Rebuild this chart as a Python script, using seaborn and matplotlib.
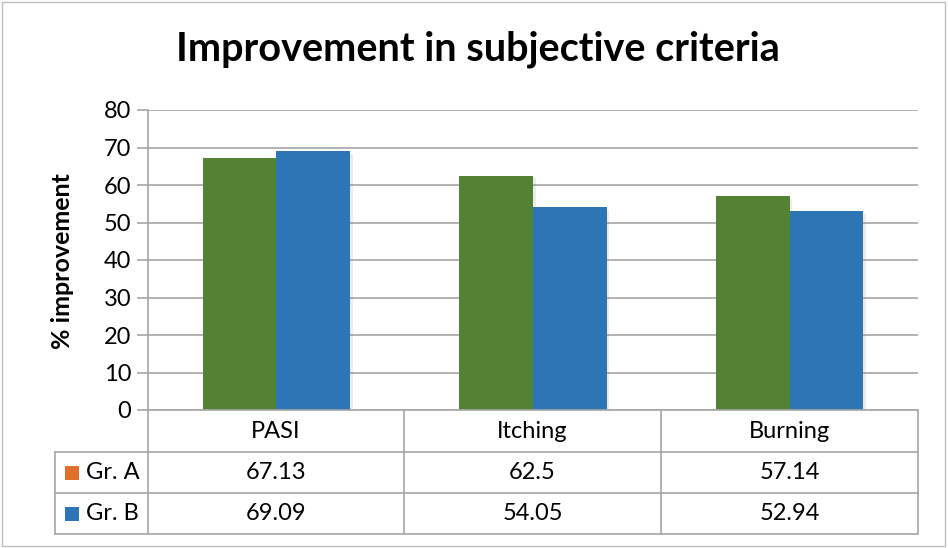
import matplotlib
matplotlib.use("Agg")
import matplotlib.pyplot as plt
import seaborn as sns
import pandas as pd
from matplotlib.lines import Line2D
from matplotlib.patches import Rectangle
import matplotlib.patheffects as pe

categories = ["PASI", "Itching", "Burning"]
series_names = ["Gr. A", "Gr. B"]
gr_a = [67.13, 62.5, 57.14]
gr_b = [69.09, 54.05, 52.94]
gr_a_labels = ["67.13", "62.5", "57.14"]
gr_b_labels = ["69.09", "54.05", "52.94"]
y_ticks = [0, 10, 20, 30, 40, 50, 60, 70, 80]

sns.set_theme(style="white")
plt.rcParams['font.family'] = ['Lato', 'DejaVu Sans']
plt.rcParams['text.color'] = 'black'
plt.rcParams['axes.labelcolor'] = 'black'
plt.rcParams['ytick.color'] = 'black'

W, H = 948, 548
fig = plt.figure(figsize=(W / 100, H / 100), dpi=100)

def fx(x):
    return x / W

def fy(y):
    return 1 - y / H

L, R, T, B = 148, 918, 110, 410
ax = fig.add_axes([fx(L), fy(B), fx(R) - fx(L), fy(T) - fy(B)])

df = pd.DataFrame({
    "cat": categories * 2,
    "val": gr_a + gr_b,
    "grp": [series_names[0]] * 3 + [series_names[1]] * 3,
})
bar_colors = ["#548235", "#2E75B6"]
sns.barplot(data=df, x="cat", y="val", hue="grp", palette=bar_colors,
            width=0.573, gap=0, ax=ax, legend=False, saturation=1,
            edgecolor="none", linewidth=0, zorder=3)
for p in ax.patches:
    p.set_path_effects([pe.SimplePatchShadow(offset=(2, -2), alpha=0.15, shadow_rgbFace="gray"), pe.Normal()])

FS = 17
grid_col = "#A6A6A6"
ax.set_ylim(0, 80)
ax.set_xlim(-0.5, 2.5)
ax.set_yticks(y_ticks)
ax.set_yticklabels([str(v) for v in y_ticks], fontsize=FS, color="black")
ax.yaxis.grid(True, color=grid_col, linewidth=1.2, zorder=0)
ax.set_axisbelow(True)
ax.set_xticks([])
ax.set_xlabel("")
ax.set_ylabel("")
ax.tick_params(axis="y", left=True, length=8, width=1.2, color=grid_col, pad=4, labelcolor="black")
for s in ["top", "right", "bottom"]:
    ax.spines[s].set_visible(False)
ax.spines["left"].set_color(grid_col)
ax.spines["left"].set_linewidth(1.2)

fig.text(fx(62), fy(261), "% improvement", rotation=90, ha="center", va="center",
         fontsize=18, fontweight="bold", color="black")
fig.text(fx(478), fy(49), "Improvement in subjective criteria", ha="center", va="center",
         fontsize=28.5, fontweight="bold", color="black")

# Data table
col_x = [148, 404, 661, 918]
rows_y = [410, 452, 493, 534]
leg_left = 55
lw = 1.2

def line(x0, y0, x1, y1):
    fig.add_artist(Line2D([fx(x0), fx(x1)], [fy(y0), fy(y1)], color=grid_col, linewidth=lw))

line(col_x[0], rows_y[0], col_x[-1], rows_y[0])
for y in rows_y[1:]:
    line(leg_left, y, col_x[-1], y)
for x in col_x:
    line(x, rows_y[0], x, rows_y[-1])
line(leg_left, rows_y[1], leg_left, rows_y[-1])

for i, c in enumerate(categories):
    cx = (col_x[i] + col_x[i + 1]) / 2
    fig.text(fx(cx), fy((rows_y[0] + rows_y[1]) / 2), c, ha="center", va="center", fontsize=FS, color="black")
    fig.text(fx(cx), fy((rows_y[1] + rows_y[2]) / 2), gr_a_labels[i], ha="center", va="center", fontsize=FS, color="black")
    fig.text(fx(cx), fy((rows_y[2] + rows_y[3]) / 2), gr_b_labels[i], ha="center", va="center", fontsize=FS, color="black")

key_colors = ["#E0702C", "#2E75B6"]
for j, name in enumerate(series_names):
    cy = (rows_y[j + 1] + rows_y[j + 2]) / 2
    fig.add_artist(Rectangle((fx(65), fy(cy + 7)), fx(14), fy(0) - fy(14),
                             facecolor=key_colors[j], edgecolor="none"))
    fig.text(fx(86), fy(cy), name, ha="left", va="center", fontsize=FS, color="black")

# outer border
fig.add_artist(Rectangle((fx(2), fy(546)), fx(943), fy(0) - fy(544), fill=False,
                         edgecolor="#BFBFBF", linewidth=1))

fig.savefig("out.png", dpi=100)
